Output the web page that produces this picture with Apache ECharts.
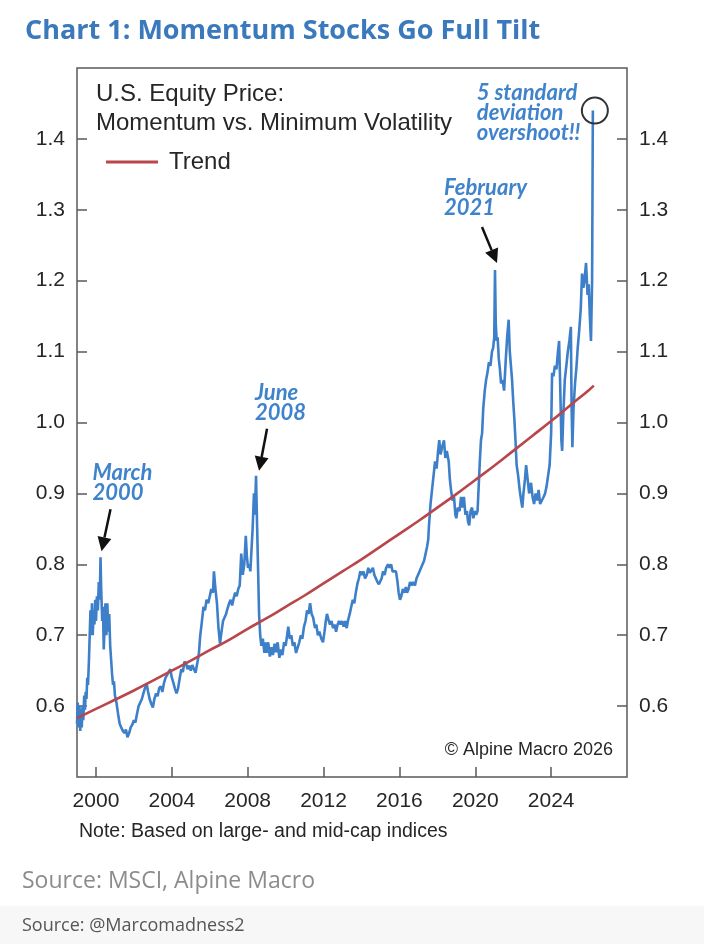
<!DOCTYPE html>
<html>
<head>
<meta charset="utf-8">
<title>Chart 1: Momentum Stocks Go Full Tilt</title>
<script src="https://cdn.jsdelivr.net/npm/echarts@6/dist/echarts.min.js"></script>
<style>
  html, body { margin: 0; padding: 0; background: #fff; }
  #chart { width: 704px; height: 944px; }
</style>
</head>
<body>
<div id="chart"></div>
<script>
// U.S. equity price, momentum vs minimum volatility  [decimal year, ratio]
const momentum = [
  [1999.00,0.575],[1999.04,0.605],[1999.08,0.57],[1999.13,0.60],[1999.17,0.565],[1999.21,0.595],
  [1999.25,0.57],[1999.29,0.60],[1999.33,0.58],[1999.38,0.615],[1999.42,0.595],[1999.46,0.62],
  [1999.50,0.61],[1999.54,0.64],[1999.58,0.63],[1999.63,0.665],[1999.67,0.70],[1999.71,0.735],
  [1999.75,0.70],[1999.79,0.745],[1999.83,0.70],[1999.88,0.735],[1999.92,0.715],[1999.96,0.75],
  [2000.00,0.72],[2000.05,0.755],[2000.10,0.735],[2000.15,0.775],[2000.20,0.75],[2000.24,0.81],
  [2000.28,0.76],[2000.33,0.72],[2000.37,0.74],[2000.41,0.68],[2000.46,0.715],[2000.50,0.745],
  [2000.55,0.70],[2000.60,0.745],[2000.65,0.705],[2000.70,0.73],[2000.75,0.685],[2000.80,0.665],
  [2000.85,0.645],[2000.90,0.63],[2000.95,0.635],[2001.00,0.615],[2001.08,0.605],[2001.16,0.59],
  [2001.25,0.575],[2001.33,0.57],[2001.42,0.565],[2001.50,0.562],[2001.58,0.567],[2001.66,0.556],
  [2001.75,0.562],[2001.83,0.57],[2001.92,0.574],[2002.00,0.58],[2002.08,0.577],[2002.17,0.59],
  [2002.25,0.60],[2002.33,0.598],[2002.42,0.61],[2002.50,0.618],[2002.58,0.625],[2002.67,0.632],
  [2002.75,0.62],[2002.83,0.61],[2002.92,0.603],[2003.00,0.598],[2003.08,0.61],[2003.17,0.618],
  [2003.25,0.614],[2003.33,0.625],[2003.42,0.628],[2003.50,0.62],[2003.58,0.632],[2003.67,0.64],
  [2003.75,0.638],[2003.83,0.648],[2003.92,0.652],[2004.00,0.64],[2004.08,0.633],[2004.17,0.624],
  [2004.25,0.618],[2004.33,0.625],[2004.42,0.64],[2004.50,0.652],[2004.58,0.648],[2004.67,0.663],
  [2004.75,0.66],[2004.83,0.652],[2004.92,0.657],[2005.00,0.65],[2005.08,0.658],[2005.17,0.652],
  [2005.25,0.647],[2005.33,0.645],[2005.42,0.672],[2005.50,0.70],[2005.58,0.718],[2005.67,0.74],
  [2005.75,0.735],[2005.83,0.75],[2005.92,0.745],[2006.00,0.755],[2006.08,0.765],[2006.17,0.76],
  [2006.22,0.79],[2006.30,0.765],[2006.38,0.745],[2006.46,0.71],[2006.54,0.688],[2006.62,0.705],
  [2006.70,0.72],[2006.78,0.725],[2006.86,0.73],[2006.94,0.738],[2007.02,0.745],[2007.10,0.75],
  [2007.18,0.742],[2007.26,0.752],[2007.34,0.76],[2007.42,0.755],[2007.50,0.765],[2007.58,0.77],
  [2007.66,0.815],[2007.74,0.785],[2007.82,0.80],[2007.90,0.84],[2007.96,0.81],[2008.02,0.795],
  [2008.08,0.80],[2008.14,0.79],[2008.20,0.82],[2008.26,0.85],[2008.33,0.90],[2008.38,0.87],
  [2008.44,0.925],[2008.50,0.85],[2008.55,0.79],[2008.60,0.73],[2008.66,0.70],[2008.72,0.685],
  [2008.80,0.695],[2008.88,0.675],[2008.95,0.69],[2009.00,0.675],[2009.08,0.69],[2009.17,0.67],
  [2009.25,0.683],[2009.33,0.672],[2009.42,0.688],[2009.50,0.676],[2009.58,0.69],[2009.67,0.668],
  [2009.75,0.68],[2009.83,0.672],[2009.92,0.69],[2010.00,0.685],[2010.08,0.70],[2010.14,0.712],
  [2010.22,0.695],[2010.30,0.70],[2010.38,0.685],[2010.46,0.69],[2010.55,0.675],[2010.65,0.676],
  [2010.72,0.69],[2010.80,0.70],[2010.88,0.695],[2010.97,0.712],[2011.05,0.72],[2011.13,0.735],
  [2011.21,0.73],[2011.29,0.745],[2011.37,0.73],[2011.45,0.725],[2011.55,0.71],[2011.62,0.715],
  [2011.70,0.70],[2011.78,0.705],[2011.88,0.695],[2011.97,0.69],[2012.05,0.705],[2012.12,0.72],
  [2012.18,0.73],[2012.26,0.722],[2012.34,0.715],[2012.42,0.72],[2012.50,0.71],[2012.58,0.715],
  [2012.66,0.705],[2012.74,0.715],[2012.82,0.72],[2012.90,0.715],[2012.98,0.72],[2013.06,0.712],
  [2013.14,0.72],[2013.22,0.71],[2013.30,0.722],[2013.38,0.73],[2013.46,0.74],[2013.54,0.75],
  [2013.62,0.745],[2013.70,0.76],[2013.78,0.772],[2013.86,0.78],[2013.94,0.79],[2014.02,0.785],
  [2014.10,0.79],[2014.19,0.78],[2014.28,0.785],[2014.36,0.795],[2014.44,0.788],[2014.52,0.79],
  [2014.60,0.795],[2014.68,0.785],[2014.76,0.78],[2014.84,0.775],[2014.92,0.772],[2014.98,0.77],
  [2015.06,0.78],[2015.14,0.79],[2015.22,0.785],[2015.30,0.795],[2015.40,0.80],[2015.48,0.795],
  [2015.56,0.80],[2015.64,0.79],[2015.72,0.792],[2015.82,0.79],[2015.90,0.775],[2015.96,0.76],
  [2016.03,0.75],[2016.10,0.755],[2016.18,0.765],[2016.26,0.76],[2016.34,0.768],[2016.40,0.76],
  [2016.48,0.765],[2016.56,0.775],[2016.64,0.77],[2016.72,0.775],[2016.82,0.77],[2016.90,0.78],
  [2016.98,0.785],[2017.06,0.79],[2017.14,0.79],[2017.22,0.80],[2017.30,0.805],[2017.38,0.815],
  [2017.46,0.825],[2017.52,0.835],[2017.56,0.855],[2017.64,0.885],[2017.72,0.905],[2017.80,0.925],
  [2017.88,0.945],[2017.96,0.935],[2018.04,0.96],[2018.10,0.975],[2018.17,0.955],[2018.25,0.965],
  [2018.35,0.975],[2018.42,0.95],[2018.50,0.96],[2018.60,0.945],[2018.66,0.92],[2018.72,0.905],
  [2018.80,0.89],[2018.88,0.895],[2018.95,0.87],[2019.00,0.865],[2019.08,0.88],[2019.17,0.875],
  [2019.25,0.895],[2019.33,0.88],[2019.40,0.895],[2019.48,0.87],[2019.56,0.875],[2019.62,0.86],
  [2019.68,0.855],[2019.75,0.875],[2019.83,0.88],[2019.90,0.865],[2019.97,0.875],[2020.05,0.87],
  [2020.12,0.875],[2020.18,0.91],[2020.24,0.945],[2020.30,0.975],[2020.36,0.985],[2020.42,1.02],
  [2020.50,1.045],[2020.57,1.06],[2020.64,1.07],[2020.72,1.085],[2020.80,1.08],[2020.88,1.10],
  [2020.94,1.105],[2021.00,1.12],[2021.04,1.215],[2021.08,1.14],[2021.13,1.115],[2021.18,1.12],
  [2021.24,1.09],[2021.30,1.075],[2021.36,1.055],[2021.44,1.06],[2021.52,1.045],[2021.60,1.085],
  [2021.68,1.12],[2021.76,1.145],[2021.82,1.10],[2021.88,1.08],[2021.94,1.06],[2022.00,1.03],
  [2022.06,1.005],[2022.12,0.975],[2022.18,0.94],[2022.26,0.925],[2022.34,0.905],[2022.42,0.89],
  [2022.48,0.88],[2022.54,0.90],[2022.62,0.92],[2022.68,0.94],[2022.76,0.92],[2022.84,0.90],
  [2022.94,0.915],[2023.02,0.895],[2023.10,0.885],[2023.18,0.90],[2023.26,0.89],[2023.34,0.905],
  [2023.42,0.885],[2023.52,0.885],[2023.60,0.895],[2023.68,0.90],[2023.76,0.91],[2023.84,0.925],
  [2023.92,0.94],[2024.00,0.985],[2024.05,1.07],[2024.12,1.065],[2024.20,1.08],[2024.28,1.075],
  [2024.36,1.10],[2024.42,1.115],[2024.48,1.05],[2024.54,0.975],[2024.58,0.96],[2024.64,1.01],
  [2024.72,1.06],[2024.80,1.08],[2024.88,1.10],[2024.96,1.115],[2025.04,1.135],[2025.08,1.02],
  [2025.12,0.965],[2025.18,1.02],[2025.26,1.055],[2025.34,1.08],[2025.40,1.105],[2025.48,1.13],
  [2025.56,1.16],[2025.63,1.21],[2025.70,1.19],[2025.76,1.20],[2025.84,1.225],[2025.92,1.18],
  [2025.98,1.195],[2026.04,1.15],[2026.10,1.115],[2026.16,1.20],[2026.20,1.44]
];

// fitted trend  [decimal year, ratio]
const trend = [
  [1999,0.583],[2000,0.596],[2001,0.609],[2002,0.622],[2003,0.636],[2004,0.650],[2005,0.664],
  [2006,0.679],[2007,0.693],[2008,0.709],[2009,0.724],[2010,0.740],[2011,0.756],[2012,0.773],
  [2013,0.790],[2014,0.807],[2015,0.825],[2016,0.843],[2017,0.861],[2018,0.880],[2019,0.899],
  [2020,0.919],[2021,0.939],[2022,0.960],[2023,0.981],[2024,1.002],[2025,1.024],[2026,1.046],
  [2026.25,1.052]
];

const xTicks = [2000, 2004, 2008, 2012, 2016, 2020, 2024];
const yTicks = [0.6, 0.7, 0.8, 0.9, 1.0, 1.1, 1.2, 1.3, 1.4];

// annotated peaks
const calloutPoints = [[2000.24, 0.81], [2008.44, 0.925], [2021.04, 1.215], [2026.20, 1.44]];
const calloutLabels = ['March\n2000', 'June\n2008', 'February\n2021', '5 standard\ndeviation\novershoot!!'];

const blue = '#3d7fc8';
const red = '#b8464b';
const ink = '#262626';
const axisGray = '#5a5a5a';

let chart = echarts.init(document.getElementById('chart'));

function yAxisCfg(pos) {
  return {
    type: 'value',
    position: pos,
    min: 0.5,
    max: 1.5,
    axisLine: { show: false },
    axisTick: { inside: true, length: 10, customValues: yTicks, lineStyle: { color: axisGray, width: 1.5 } },
    axisLabel: {
      customValues: yTicks,
      formatter: v => v.toFixed(1),
      fontFamily: 'Liberation Sans', fontSize: 21, color: ink, margin: 12
    },
    splitLine: { show: false }
  };
}

let option = {
  animation: false,
  backgroundColor: '#fff',
  title: {
    text: 'Chart 1: Momentum Stocks Go Full Tilt',
    left: 20,
    top: 13,
    textStyle: { fontFamily: 'Open Sans', fontWeight: 700, fontSize: 27, color: '#3a79bc' }
  },
  grid: {
    left: 77, right: 77, top: 68, bottom: 167,
    show: true, borderColor: axisGray, borderWidth: 1.5
  },
  legend: {
    data: ['Trend'],
    left: 101, top: 145,
    icon: 'rect', itemWidth: 52, itemHeight: 3,
    textStyle: { fontFamily: 'Liberation Sans', fontSize: 24, color: ink, padding: [0, 0, 0, 6] }
  },
  xAxis: {
    type: 'value',
    min: 1999,
    max: 2028,
    axisLine: { show: false },
    axisTick: { inside: true, length: 10, customValues: xTicks, lineStyle: { color: axisGray, width: 1.5 } },
    axisLabel: {
      customValues: xTicks, formatter: v => String(v),
      fontFamily: 'Liberation Sans', fontSize: 21, color: ink, margin: 14
    },
    splitLine: { show: false }
  },
  yAxis: [yAxisCfg('left'), yAxisCfg('right')],
  series: [
    {
      name: 'Momentum',
      type: 'line',
      data: momentum,
      showSymbol: false,
      lineStyle: { color: blue, width: 2.6 },
      itemStyle: { color: blue }
    },
    {
      name: 'Trend',
      type: 'line',
      data: trend,
      smooth: true,
      showSymbol: false,
      lineStyle: { color: red, width: 2.6 },
      itemStyle: { color: red }
    }
  ]
};
chart.setOption(option);

// arrow shaft + filled head, pointing from a to b
function arrow(a, b) {
  let dx = b[0] - a[0], dy = b[1] - a[1];
  let len = Math.hypot(dx, dy), ux = dx / len, uy = dy / len;
  let hl = 14, hw = 7;
  let bx = b[0] - ux * hl, by = b[1] - uy * hl;
  return [
    { type: 'line', shape: { x1: a[0], y1: a[1], x2: bx, y2: by }, style: { stroke: '#111', lineWidth: 2.5 }, z: 10 },
    { type: 'polygon', shape: { points: [b, [bx - uy * hw, by + ux * hw], [bx + uy * hw, by - ux * hw]] }, style: { fill: '#111' }, z: 10 }
  ];
}

function callText(x, y, text) {
  return {
    type: 'text', x: x, y: y, z: 10,
    style: {
      text: text, fill: '#3f83cc', fontFamily: 'Lato', fontStyle: 'italic', fontWeight: 'bold',
      fontSize: 22, lineHeight: 20, verticalAlign: 'top'
    }
  };
}

let pk = calloutPoints.map(p => chart.convertToPixel({ seriesIndex: 0 }, p));
let graphics = [
  // note strip at the bottom
  { type: 'rect', shape: { x: 0, y: 906, width: 704, height: 38 }, style: { fill: '#f7f7f7' }, z: -1 },
  {
    type: 'text', x: 96, y: 80, style: {
      text: 'U.S. Equity Price:\nMomentum vs. Minimum Volatility', fill: ink,
      fontFamily: 'Liberation Sans', fontSize: 24, lineHeight: 29, verticalAlign: 'top'
    }
  },
  {
    type: 'text', x: 613, y: 750, style: {
      text: '\u00a9 Alpine Macro 2026', fill: ink, fontFamily: 'Liberation Sans', fontSize: 18,
      align: 'right', verticalAlign: 'middle'
    }
  },
  {
    type: 'text', x: 79, y: 832, style: {
      text: 'Note: Based on large- and mid-cap indices', fill: ink, fontFamily: 'Liberation Sans',
      fontSize: 19.5, verticalAlign: 'middle'
    }
  },
  {
    type: 'text', x: 22, y: 881, style: {
      text: 'Source: MSCI, Alpine Macro', fill: '#8c8c8c', fontFamily: 'Open Sans',
      fontSize: 23, verticalAlign: 'middle'
    }
  },
  {
    type: 'text', x: 22, y: 926, style: {
      text: 'Source: @Marcomadness2', fill: '#555', fontFamily: 'Open Sans',
      fontSize: 18, verticalAlign: 'middle'
    }
  },
  callText(pk[0][0] - 8, pk[0][1] - 94, calloutLabels[0]),
  ...arrow([pk[0][0] + 10, pk[0][1] - 48], [pk[0][0] + 1, pk[0][1] - 6]),
  callText(pk[1][0] - 1, pk[1][1] - 93, calloutLabels[1]),
  ...arrow([pk[1][0] + 11, pk[1][1] - 47], [pk[1][0] + 3, pk[1][1] - 5]),
  callText(pk[2][0] - 51, pk[2][1] - 92, calloutLabels[2]),
  ...arrow([pk[2][0] - 13, pk[2][1] - 43], [pk[2][0] + 2, pk[2][1] - 7]),
  callText(pk[3][0] - 116, pk[3][1] - 28, calloutLabels[3]),
  {
    type: 'circle', shape: { cx: pk[3][0] + 2, cy: pk[3][1], r: 13 },
    style: { fill: 'none', stroke: '#333', lineWidth: 2 }, z: 10
  }
];
chart.setOption({ graphic: graphics });
</script>
</body>
</html>
